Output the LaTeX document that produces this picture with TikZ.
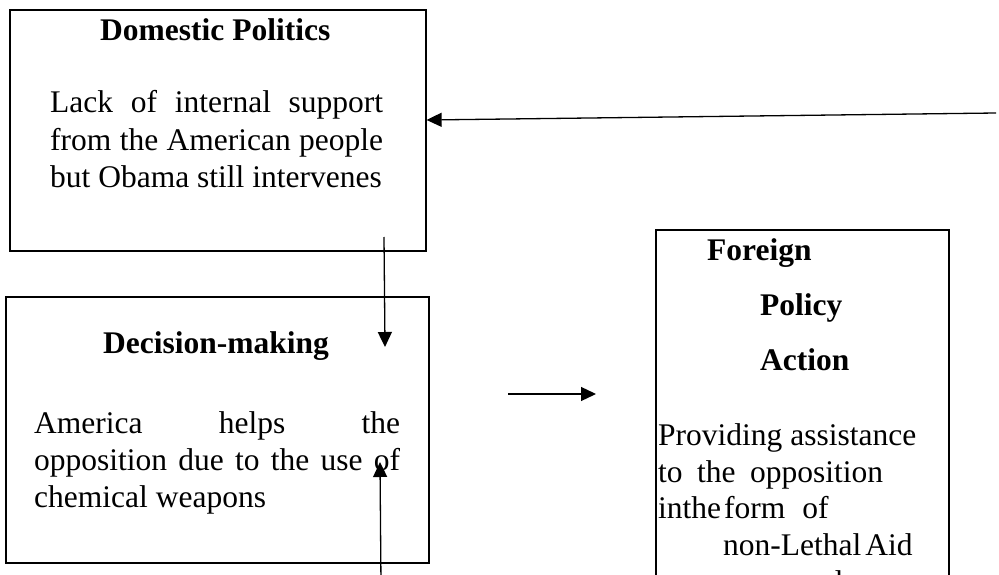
\documentclass[tikz,border=0pt]{standalone}
\usepackage{fontspec}
\setmainfont{Liberation Serif}
\usetikzlibrary{arrows.meta}
\begin{document}
\begin{tikzpicture}[x=1pt,y=-1pt,
  box/.style={draw, line width=1.6pt, rectangle, anchor=north west, inner sep=0pt},
  txt/.style={anchor=base west, inner sep=0pt, font=\fontsize{31.5}{37}\selectfont},
  ttl/.style={anchor=base west, inner sep=0pt, font=\fontsize{31.5}{37}\selectfont\bfseries},
  arr/.style={line width=1.3pt, -{Triangle[length=15pt,width=14pt]}}]
\clip (0,0) rectangle (999,575);
% boxes
\node[box, minimum width=416pt, minimum height=241pt] (dom) at (9,9) {};
\node[box, minimum width=423pt, minimum height=266pt] (dec) at (5,296) {};
\node[box, minimum width=293pt, minimum height=500pt] (fp) at (655,229) {};
% domestic politics
\node[ttl] (domT) at (100,41) {Domestic Politics};
\node[txt] (dom1) at (50,113) {\hbox to 333pt{Lack\hfill of\hfill internal\hfill support}};
\node[txt] (dom2) at (50,150) {\hbox to 333pt{from\hfill the\hfill American\hfill people}};
\node[txt] (dom3) at (50,187) {but Obama still intervenes};
% decision-making
\node[ttl] (decT) at (103,353) {Decision-making};
\node[txt] (dec1) at (34,433) {\hbox to 366pt{America\hfill helps\hfill the}};
\node[txt] (dec2) at (34,470) {\hbox to 366pt{opposition\hfill due\hfill to\hfill the\hfill use\hfill of}};
\node[txt] (dec3) at (34,507) {chemical weapons};
% foreign policy action
\node[ttl] (fpT1) at (707,260) {Foreign};
\node[ttl] (fpT2) at (760,315) {Policy};
\node[ttl] (fpT3) at (760,370) {Action};
\node[txt] (fp1) at (658,445) {Providing assistance};
\node[txt] (fp2) at (658,482) {\hbox to 225pt{to\hfill the\hfill opposition}};
\node[txt] (fp3) at (658,518) {inthe\kern3pt form\kern17pt of};
\node[txt] (fp4) at (723,555) {non-Lethal\kern4pt Aid};
\node[txt] (fp5) at (797,592) {and};
% connectors
\coordinate (topS) at (996,113);
\coordinate (topE) at (dom.north east |- 0,120);
\coordinate (dS) at (384,237);
\coordinate (dE) at (385,347);
\coordinate (uS) at (381,585);
\coordinate (uE) at (380,462);
\coordinate (rS) at (508,394);
\coordinate (rE) at (596,394);
\draw[arr] (topS) -- (topE);
\draw[arr] (dS) -- (dE);
\draw[arr] (uS) -- (uE);
\draw[arr] (rS) -- (rE);
\end{tikzpicture}
\end{document}
